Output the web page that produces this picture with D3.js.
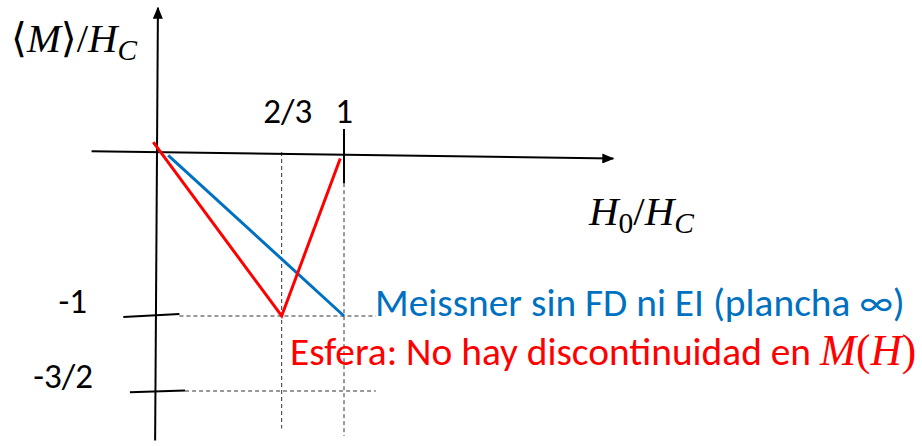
<!DOCTYPE html>
<html>
<head>
<meta charset="utf-8">
<script src="https://cdn.jsdelivr.net/npm/d3@7"></script>
<style>
  html, body { margin: 0; padding: 0; background: #fff; }
  svg { display: block; }
</style>
</head>
<body>
<svg id="chart" width="922" height="446"></svg>
<script>
// Field values H0/Hc where the curves bend
const fieldPoints = [0, 2 / 3, 1];
// Meissner state, infinite slab: straight line down to -1 at H0 = Hc
const slabH = [0.06, 1];
const slabM = [-0.02, -1];
// Sphere: linear drop to -1 at H0 = 2/3 Hc, then back up to 0 at Hc
const sphereH = [-0.02, 2 / 3, 0.98];
const sphereM = [0.06, -1, -0.04];
// Tick labels
const xTickValues = [2 / 3, 1];
const xTickLabels = ["2/3", "1"];
const yTickValues = [-1, -1.5];
const yTickLabels = ["-1", "-3/2"];
// Legend texts
const slabLabel = "Meissner sin FD ni EI (plancha \u221E)";
const sphereLabel = "Esfera: No hay discontinuidad en\u00A0";

const blue = "#0070C0";
const red = "#FF0000";
const sans = "Carlito, Calibri, 'Open Sans', sans-serif";
const serif = "'Liberation Serif', 'DejaVu Serif', serif";

const svg = d3.select("#chart");
const x = d3.scaleLinear().domain([0, 1]).range([157, 344]);
const y = d3.scaleLinear().domain([-1.5, -1, 0]).range([391, 316, 152]);

// scale a text's font size so it spans the given width
function fitWidth(sel, base, target) {
  sel.attr("font-size", base);
  const w = sel.node().getComputedTextLength();
  const f = base * target / w;
  sel.attr("font-size", f);
  return f;
}

const defs = svg.append("defs");
defs.append("marker")
  .attr("id", "arrow")
  .attr("viewBox", "0 0 12 10")
  .attr("refX", 11).attr("refY", 5)
  .attr("markerWidth", 12).attr("markerHeight", 10)
  .attr("markerUnits", "userSpaceOnUse")
  .attr("orient", "auto")
  .append("path").attr("d", "M0,0 L12,5 L0,10 Z").attr("fill", "#000");

const seg = (g, p, opts) => g.append("line")
  .attr("x1", x(p[0][0])).attr("y1", y(p[0][1]))
  .attr("x2", x(p[1][0])).attr("y2", y(p[1][1]))
  .attr("stroke", opts.color || "#000")
  .attr("stroke-width", opts.width || 2)
  .attr("stroke-dasharray", opts.dash || null)
  .attr("marker-end", opts.marker || null);

// guide lines (dashed)
const guides = svg.append("g");
const dash = { color: "#333", width: 1, dash: "4,3" };
seg(guides, [[fieldPoints[1], 0], [fieldPoints[1], -1.75]], dash);
seg(guides, [[fieldPoints[2], -0.19], [fieldPoints[2], -1.8]], dash);
seg(guides, [[0.12, -1], [1.17, -1]], dash);
seg(guides, [[0.15, -1.5], [1.17, -1.5]], dash);

// axes with arrows
const axes = svg.append("g");
seg(axes, [[-0.35, 0.005], [2.44, -0.04]], { width: 2, marker: "url(#arrow)" });
seg(axes, [[-0.01, -1.83], [0.005, 0.88]], { width: 2, marker: "url(#arrow)" });

// tick marks
seg(axes, [[1, 0.14], [1, -0.19]], { width: 2 });
seg(axes, [[-0.18, -1.006], [0.12, -0.988]], { width: 2 });
seg(axes, [[-0.145, -1.508], [0.15, -1.497]], { width: 2 });

// curves
const line = d3.line().x(d => x(d[0])).y(d => y(d[1]));
svg.append("path")
  .datum(d3.zip(slabH, slabM))
  .attr("d", line).attr("fill", "none")
  .attr("stroke", blue).attr("stroke-width", 3);
svg.append("path")
  .datum(d3.zip(sphereH, sphereM))
  .attr("d", line).attr("fill", "none")
  .attr("stroke", red).attr("stroke-width", 3)
  .attr("stroke-linejoin", "miter");

// tick labels
const labels = svg.append("g").attr("font-family", sans).attr("font-size", 35).attr("fill", "#000");
labels.selectAll(".xt").data(xTickValues).join("text")
  .attr("x", (d, i) => x(d) + (i === 0 ? 6 : 0)).attr("y", y(0) - 29)
  .attr("text-anchor", "middle")
  .text((d, i) => xTickLabels[i]);
labels.selectAll(".yt").data(yTickValues).join("text")
  .attr("x", (d, i) => i === 0 ? 87 : 93).attr("y", d => y(d) - 3)
  .attr("text-anchor", "end")
  .text((d, i) => yTickLabels[i]);

// axis titles (math)
const yTitle = svg.append("text")
  .attr("x", 11).attr("y", 52)
  .attr("font-family", serif);
yTitle.append("tspan").attr("font-style", "normal").text("\u27E8");
yTitle.append("tspan").attr("font-style", "italic").text("M");
yTitle.append("tspan").attr("font-style", "normal").text("\u27E9/");
yTitle.append("tspan").attr("font-style", "italic").text("H");
yTitle.append("tspan").attr("font-style", "italic").attr("font-size", "0.72em").attr("dy", 8).text("C");
fitWidth(yTitle, 36, 126);

const xTitle = svg.append("text")
  .attr("x", 589).attr("y", 225)
  .attr("font-family", serif);
xTitle.append("tspan").attr("font-style", "italic").text("H");
xTitle.append("tspan").attr("font-size", "0.72em").attr("dy", 8).text("0");
xTitle.append("tspan").attr("dy", -8).text("/");
xTitle.append("tspan").attr("font-style", "italic").text("H");
xTitle.append("tspan").attr("font-style", "italic").attr("font-size", "0.72em").attr("dy", 8).text("C");
fitWidth(xTitle, 36, 105);

// legend texts, sized to span their rows
const slabText = svg.append("text")
  .attr("x", 375).attr("y", y(-1))
  .attr("font-family", sans).attr("fill", blue)
  .text(slabLabel);
const fs = fitWidth(slabText, 36, 530);

const sphereText = svg.append("text")
  .attr("x", 290).attr("y", 365)
  .attr("font-family", sans).attr("font-size", fs).attr("fill", red);
sphereText.append("tspan").text(sphereLabel);
const math = sphereText.append("tspan").attr("font-family", serif).attr("font-size", fs * 1.1);
math.append("tspan").attr("font-style", "italic").text("M");
math.append("tspan").text("(");
math.append("tspan").attr("font-style", "italic").text("H");
math.append("tspan").text(")");
</script>
</body>
</html>
